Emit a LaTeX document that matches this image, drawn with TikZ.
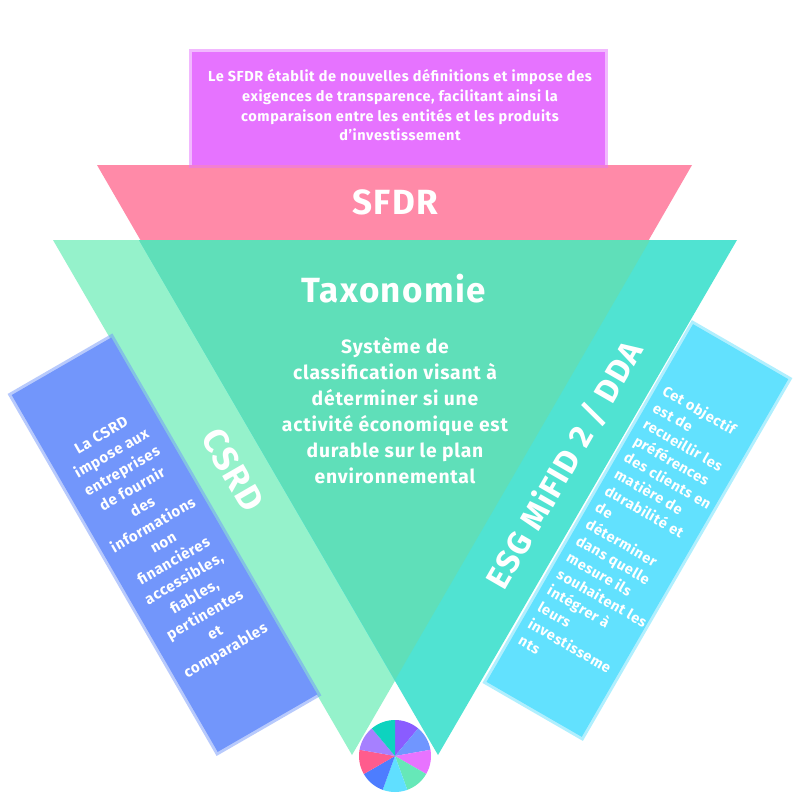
\documentclass[tikz,border=0pt]{standalone}
\usepackage{fontspec}
\setmainfont{Fira Sans}[BoldFont=Fira Sans Bold,LetterSpace=4]
\definecolor{cpink}{HTML}{FF8AA8}
\definecolor{cgreen}{HTML}{95F2CB}
\definecolor{cteal}{HTML}{50E3D2}
\definecolor{cmid}{HTML}{5FDFB9}
\definecolor{cmag}{HTML}{E673FF}
\definecolor{cblue}{HTML}{7296FB}
\definecolor{ccyan}{HTML}{62E1FE}
\tikzset{
  infobox/.style={rectangle,fill=#1,draw=#1,draw opacity=.5,line width=6pt,inner sep=0pt,outer sep=0pt},
  title/.style={text=white,font=\bfseries\fontsize{#1}{#1}\selectfont,inner sep=0pt},
  body/.style 2 args={text=white,font=\bfseries\fontsize{#1}{#2}\selectfont,inner sep=0pt},
}
\begin{document}
\begin{tikzpicture}[x=1pt,y=-1pt]
\useasboundingbox (0,0) rectangle (800,800);
\fill[white] (0,0) rectangle (800,800);
% triangles
\fill[cpink] (97,165) -- (692,165) -- (395,680) -- cycle;
\fill[cgreen] (53,240) -- (650,240) -- (352,755) -- cycle;
\fill[cteal] (139,240) -- (737,240) -- (438,755) -- cycle;
\fill[cmid] (139,240) -- (650,240) -- (395,680) -- cycle;
% boxes
\node[infobox=cmag,minimum width=413pt,minimum height=113pt] (boxtop) at (398.7,108.5) {};
\node[infobox=cblue,rotate=30,minimum width=115pt,minimum height=412pt] (boxleft) at (164.5,544.7) {};
\node[infobox=ccyan,rotate=-30,minimum width=110pt,minimum height=413pt] (boxright) at (637.4,530.5) {};
% wheel
\begin{scope}[shift={(395,756)},x=1pt,y=1pt]
\foreach \a/\c in {90/8A5CFF,50/7096FF,10/E873FF,-30/66E8B8,-70/60DFFF,-110/4D7DFF,-150/FF5C8D,-190/A680FF,-230/0DD3BF}{
  \definecolor{wc}{HTML}{\c}
  \fill[wc] (0,0) -- (\a:36) arc[start angle=\a,end angle=\a-40,radius=36] -- cycle;
}
\end{scope}
% titles
\node[title=35] (tsfdr) at (395,202) {SFDR};
\node[title=35] (ttax) at (393.5,289) {Taxonomie};
\node[title=35,rotate=-60] (tcsrd) at (233,470) {CSRD};
\node[title=32.5,rotate=60] (tesg) at (564.5,465) {ESG MiFID 2 / DDA};
% body
\node[body={14.5}{19.7},align=center] (ttop) at (400,105.5) {Le SFDR établit de nouvelles définitions et impose des\\exigences de transparence, facilitant ainsi la\\comparaison entre les entités et les produits\\d’investissement};
\node[body={19.3}{26},align=center] (tmid) at (395,411) {Système de\\classification visant à\\déterminer si une\\activité économique est\\durable sur le plan\\environnemental};
\node[body={15}{20.7},align=center,rotate=30] (tleft) at (164,544) {La CSRD\\impose aux\\entreprises\\de fournir\\des\\informations\\non\\financières\\accessibles,\\fiables,\\pertinentes\\et\\comparables};
\node[body={14.5}{19.2},align=left,rotate=-30,anchor=west] (tright) at (592,514) {Cet objectif\\est de\\recueillir les\\préférences\\des clients en\\matière de\\durabilité et\\de\\déterminer\\dans quelle\\mesure ils\\souhaitent les\\intégrer à\\leurs\\investisseme\\nts};
\end{tikzpicture}
\end{document}
